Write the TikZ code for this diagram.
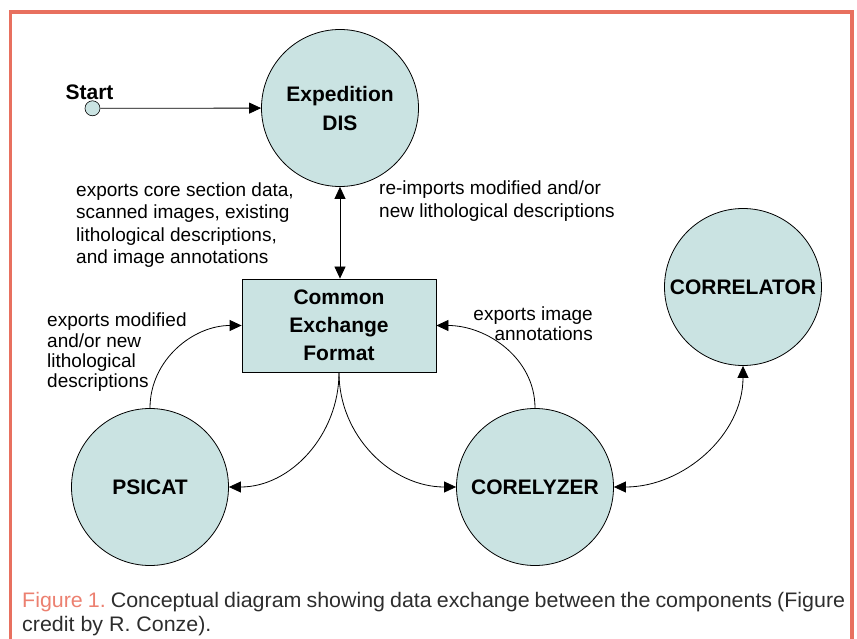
\documentclass[tikz,border=0pt]{standalone}
\usepackage{fontspec}
\setmainfont{Liberation Sans}
\newfontfamily\captionfont[FakeStretch=1.02]{Liberation Sans}
\usetikzlibrary{positioning,arrows.meta}

\definecolor{tealfill}{RGB}{202,227,226}
\definecolor{framered}{RGB}{232,112,95}
\definecolor{captionred}{RGB}{236,128,112}
\definecolor{captiongray}{RGB}{45,45,45}

\begin{document}
\begin{tikzpicture}[x=1pt,y=-1pt,
    component/.style={circle,draw,fill=tealfill,line width=0.8pt,minimum size=157pt,inner sep=0pt,
      align=center,font=\bfseries\fontsize{21}{29}\selectfont},
    exchange/.style={rectangle,draw,fill=tealfill,line width=0.8pt,minimum width=194pt,minimum height=93pt,
      inner sep=0pt,align=center,font=\bfseries\fontsize{21}{28}\selectfont},
    flow/.style={line width=0.8pt,-{Triangle[length=12pt,width=11pt]}},
    note/.style={inner sep=0pt,font=\fontsize{19}{22.3}\selectfont}]
  \useasboundingbox (0,0) rectangle (857,639);
  % frame
  \draw[framered,line width=3.5pt] (10.3,639) -- (10.3,12) -- (852,12) -- (852,639);

  % components
  \node (dis) [component] at (340,108) {Expedition\\DIS};
  \node (cef) [exchange] at (339,325.5) {Common\\Exchange\\Format};
  \node (psicat) [component] at (150,487) {PSICAT};
  \node (corelyzer) [component] at (535,487) {CORELYZER};
  \node (correlator) [component] at (743,287) {CORRELATOR};

  % start point
  \node (start) [circle,draw,fill=tealfill,line width=0.6pt,minimum size=15pt,inner sep=0pt] at (92.5,108.3) {};
  \node (startlbl) [above=1pt of start,xshift=-3pt,inner sep=0pt,font=\bfseries\fontsize{21}{25}\selectfont] {Start};

  % connectors
  \draw[flow] (start) -- (dis);
  \draw[flow,{Triangle[length=12pt,width=11pt]}-{Triangle[length=12pt,width=11pt]}] (dis.south) -- (dis.south |- cef.north);
  \draw[flow] (psicat.north) to[out=90,in=180] (cef.west);
  \draw[flow] (cef.south) to[out=-90,in=0] (psicat.east);
  \draw[flow] (cef.south) to[out=-90,in=180] (corelyzer.west);
  \draw[flow] (corelyzer.north) to[out=90,in=0] (cef.east);
  \draw[flow,{Triangle[length=12pt,width=11pt]}-{Triangle[length=12pt,width=11pt]}] (corelyzer.east) to[out=0,in=-90] (correlator.south);

  % connector notes
  \node (exportcore) [note,anchor=west,align=left] at (76,225)
    {exports core section data,\\scanned images, existing\\lithological descriptions,\\and image annotations};
  \node (reimport) [note,anchor=west,align=left] at (379,201)
    {re-imports modified and/or\\new lithological descriptions};
  \node (exportmod) [note,anchor=west,align=left,font=\fontsize{19}{20.3}\selectfont] at (47,352.5)
    {exports modified\\and/or new\\lithological\\descriptions};
  \node (exportimg) [note,anchor=east,align=right,font=\fontsize{19}{20}\selectfont] at (593,324)
    {exports image\\annotations};

  % caption
  \node (caption) [anchor=north west,inner sep=0pt,align=left,
    font=\captionfont\fontsize{21}{24}\selectfont\frenchspacing,text=captiongray] at (22,592)
    {\makebox[823pt][s]{\textcolor{captionred}{Figure 1.} Conceptual diagram showing data exchange between the components (Figure}\\
     credit by R. Conze).};
\end{tikzpicture}
\end{document}
